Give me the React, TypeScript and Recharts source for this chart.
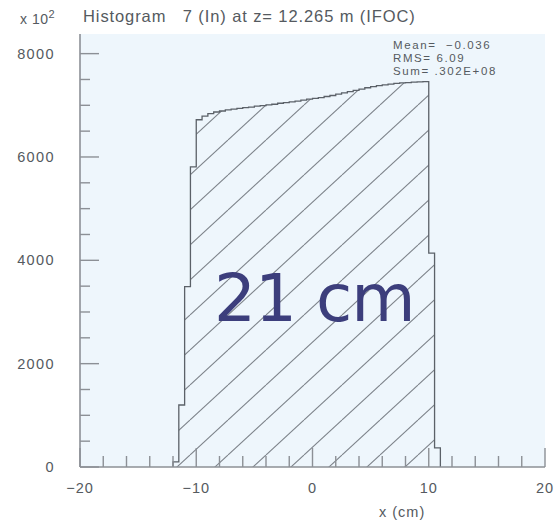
import { AreaChart, Area, XAxis, YAxis, CartesianGrid } from "recharts";

// histogram binning (cm)
const BIN_START = -12;
const BIN_WIDTH = 0.5;

// entries per bin, in units of 10^2
const counts = [
  100, 1200, 3490, 5810,
  6720, 6790, 6840, 6870, 6890, 6910, 6925, 6940, 6955, 6965,
  6985, 6995, 7010, 7020, 7040, 7050, 7065, 7080, 7100, 7120,
  7135, 7150, 7170, 7190, 7215, 7240, 7265, 7290, 7315, 7340,
  7360, 7380, 7395, 7410, 7425, 7435, 7440, 7450, 7455, 7460,
  4140, 370,
];

const xTicks = [-20, -18, -16, -14, -12, -10, -8, -6, -4, -2, 0, 2, 4, 6, 8, 10, 12, 14, 16, 18, 20];
const yTicks = [0, 500, 1000, 1500, 2000, 2500, 3000, 3500, 4000, 4500, 5000, 5500, 6000, 6500, 7000, 7500, 8000];

const stats = ["Mean=  \u22120.036", "RMS= 6.09", "Sum= .302E+08"];

// step outline: start at zero, one point per bin left edge, close back to zero
const data = [
  { x: BIN_START, n: 0 },
  ...counts.map((n, i) => ({ x: BIN_START + i * BIN_WIDTH, n })),
  { x: BIN_START + counts.length * BIN_WIDTH, n: 0 },
];

const FRAME = "#8c9096";
const INK = "#555a60";
const FONT = "'Liberation Sans', Arial, sans-serif";
const Y_GAP = 25;
const X_GAP = 21;

const fmt = (v: number) => (v < 0 ? "\u2212" + Math.abs(v) : String(v));

const YTick = (props: any) => {
  const { x, y, payload } = props;
  const v = payload.value;
  const major = v % 2000 === 0;
  const ax = x + Y_GAP;
  return (
    <g>
      <line x1={ax} x2={ax + (major ? 19 : 10)} y1={y} y2={y} stroke={FRAME} strokeWidth={1.4} />
      {major && (
        <text x={x} y={y} dy="0.35em" textAnchor="end" fontSize={14.5} letterSpacing={1.4} fill={INK} fontFamily={FONT}>
          {v}
        </text>
      )}
    </g>
  );
};

const XTick = (props: any) => {
  const { x, y, payload } = props;
  const v = payload.value;
  const major = v % 10 === 0;
  const ay = y - X_GAP;
  return (
    <g>
      <line x1={x} x2={x} y1={ay} y2={ay - (major ? 19 : 11)} stroke={FRAME} strokeWidth={1.4} />
      {major && (
        <text x={x} y={y} dy="0.35em" textAnchor="middle" fontSize={14.5} letterSpacing={1} fill={INK} fontFamily={FONT}>
          {fmt(v)}
        </text>
      )}
    </g>
  );
};

export default function App() {
  return (
    <div style={{ position: "absolute", left: 0, top: 0, width: 558, height: 526, background: "#fff" }}>
      <AreaChart width={558} height={526} data={data} margin={{ top: 34, right: 13, bottom: 19, left: 20 }}>
        <defs>
          <pattern id="hatch" patternUnits="userSpaceOnUse" width={38} height={35}>
            <line x1={0} y1={35} x2={38} y2={0} stroke="#7d838a" strokeWidth={1.1} />
            <line x1={-38} y1={35} x2={0} y2={0} stroke="#7d838a" strokeWidth={1.1} />
            <line x1={38} y1={35} x2={76} y2={0} stroke="#7d838a" strokeWidth={1.1} />
          </pattern>
        </defs>
        <CartesianGrid fill="#eef6fc" horizontal={false} vertical={false} />
        <XAxis
          dataKey="x"
          type="number"
          domain={[-20, 20]}
          ticks={xTicks}
          interval={0}
          height={40}
          tickSize={0}
          tickMargin={X_GAP}
          tick={<XTick />}
          axisLine={{ stroke: FRAME, strokeWidth: 1.6 }}
          allowDataOverflow
        />
        <XAxis xAxisId="top" orientation="top" type="number" domain={[-20, 20]} height={0} tick={false} tickLine={false} axisLine={{ stroke: FRAME, strokeWidth: 1.6 }} />
        <YAxis
          type="number"
          domain={[0, 8380]}
          ticks={yTicks}
          interval={0}
          width={60}
          tickSize={0}
          tickMargin={Y_GAP}
          tick={<YTick />}
          axisLine={{ stroke: FRAME, strokeWidth: 1.6 }}
          allowDataOverflow
        />
        <YAxis yAxisId="right" orientation="right" type="number" domain={[0, 8380]} width={0} tick={false} tickLine={false} axisLine={{ stroke: FRAME, strokeWidth: 1.6 }} />
        <Area
          type="stepAfter"
          dataKey="n"
          stroke="#5b6168"
          strokeWidth={1.3}
          fill="url(#hatch)"
          fillOpacity={1}
          dot={false}
          activeDot={false}
          isAnimationActive={false}
        />
      </AreaChart>

      <div style={{ position: "absolute", left: 20, top: 8, fontFamily: FONT, fontSize: 14, color: INK, letterSpacing: 0.5 }}>
        x 10<sup style={{ fontSize: 11 }}>2</sup>
      </div>
      <div style={{ position: "absolute", left: 83, top: 7, fontFamily: FONT, fontSize: 16.5, letterSpacing: 0.9, color: INK, whiteSpace: "pre" }}>
        Histogram   7 (In) at z= 12.265 m (IFOC)
      </div>
      <div style={{ position: "absolute", left: 393, top: 39, fontFamily: FONT, fontSize: 11.5, letterSpacing: 1.6, lineHeight: "13px", color: INK, whiteSpace: "pre" }}>
        {stats.map((s) => (
          <div key={s}>{s}</div>
        ))}
      </div>
      <div style={{ position: "absolute", left: 379, top: 504, fontFamily: FONT, fontSize: 14.5, letterSpacing: 1, color: INK }}>
        x (cm)
      </div>
      <div
        style={{
          position: "absolute",
          left: 214,
          top: 260,
          fontFamily: "'DejaVu Sans', sans-serif",
          fontSize: 66,
          lineHeight: "78px",
          color: "#3c3e7c",
          whiteSpace: "pre",
          letterSpacing: -1,
        }}
      >
        21 cm
      </div>
    </div>
  );
}
